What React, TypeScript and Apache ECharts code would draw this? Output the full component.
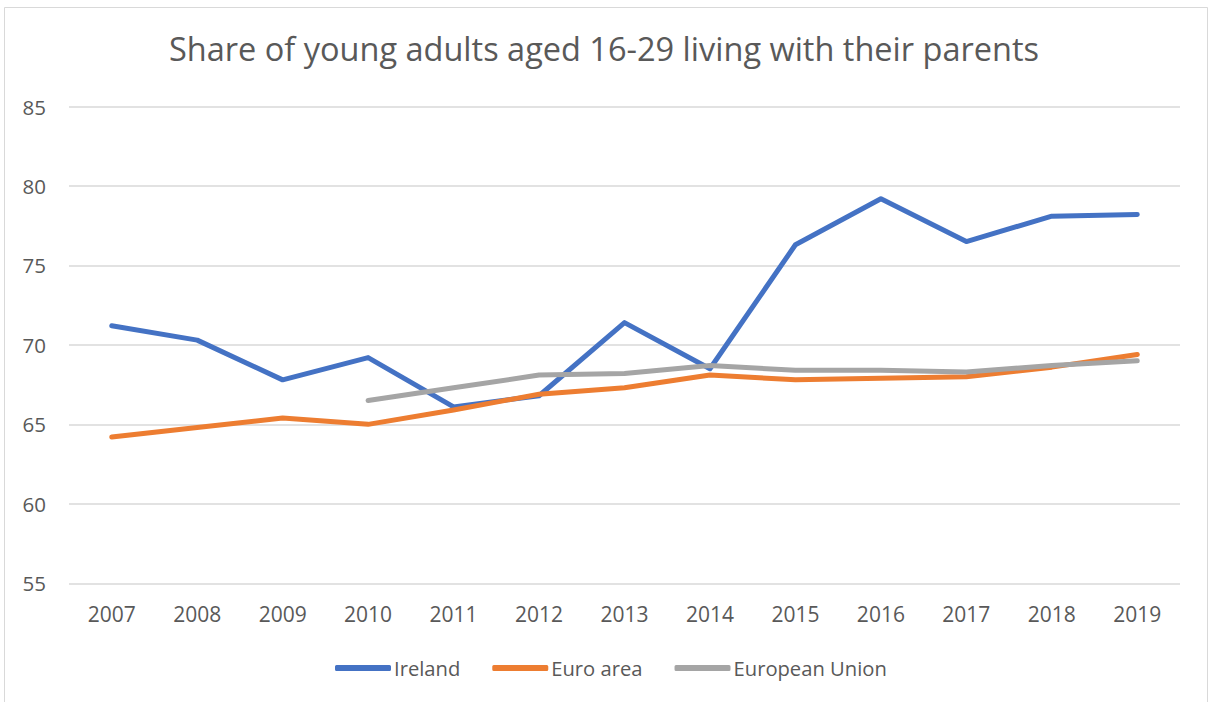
import React, { useEffect, useRef } from "react";
import * as echarts from "echarts";

const years = ["2007","2008","2009","2010","2011","2012","2013","2014","2015","2016","2017","2018","2019"];
const ireland = [71.2, 70.3, 67.8, 69.2, 66.1, 66.8, 71.4, 68.5, 76.3, 79.2, 76.5, 78.1, 78.2];
const euroArea = [64.2, 64.8, 65.4, 65.0, 65.9, 66.9, 67.3, 68.1, 67.8, 67.9, 68.0, 68.6, 69.4];
const europeanUnion = [null, null, null, 66.5, 67.3, 68.1, 68.2, 68.7, 68.4, 68.4, 68.3, 68.7, 69.0];
const titleText = "Share of young adults aged 16-29 living with their parents";

const FONT = "'Open Sans', 'Noto Sans', sans-serif";
const TXT = "#595959";

export default function App() {
  const ref = useRef<HTMLDivElement>(null);
  useEffect(() => {
    document.body.style.margin = "0";
    const chart = echarts.init(ref.current!, null, { renderer: "svg" });
    const mk = (name: string, data: any[], color: string) => ({
      name,
      type: "line",
      data,
      symbol: "none",
      connectNulls: false,
      lineStyle: { color, width: 5, cap: "round", join: "round" },
      itemStyle: { color },
    });
    chart.setOption({
      animation: false,
      backgroundColor: "#fff",
      textStyle: { fontFamily: FONT },
      graphic: [
        {
          type: "rect",
          shape: { x: 4.5, y: 7.5, width: 1203, height: 710 },
          style: { fill: "none", stroke: "#d9d9d9", lineWidth: 1 },
          silent: true,
        },
      ],
      title: {
        text: titleText,
        left: "center",
        top: 27,
        textStyle: { color: TXT, fontSize: 32.5, fontWeight: "normal", fontFamily: FONT },
      },
      legend: {
        top: 653,
        left: 330,
        itemWidth: 56,
        itemHeight: 6,
        itemGap: 32,
        icon: "roundRect",
        textStyle: { color: TXT, fontSize: 20.2, fontFamily: FONT, padding: [0, 0, 0, -2] },
        data: ["Ireland", "Euro area", "European Union"],
      },
      grid: { left: 69, right: 28, top: 106.5, bottom: 702 - 583.3 },
      xAxis: {
        type: "category",
        data: years,
        boundaryGap: true,
        axisLine: { show: false },
        axisTick: { show: false },
        axisLabel: { color: TXT, fontSize: 21, margin: 20, fontFamily: FONT },
      },
      yAxis: {
        type: "value",
        min: 55,
        max: 85,
        interval: 5,
        axisLine: { show: false },
        axisTick: { show: false },
        axisLabel: { color: TXT, fontSize: 20.5, margin: 23, fontFamily: FONT },
        splitLine: { lineStyle: { color: "#d9d9d9", width: 1.5 } },
      },
      series: [
        mk("Ireland", ireland, "#4472c4"),
        mk("Euro area", euroArea, "#ed7d31"),
        mk("European Union", europeanUnion, "#a5a5a5"),
      ],
    });
    return () => chart.dispose();
  }, []);
  return <div ref={ref} style={{ width: 1208, height: 702 }} />;
}
